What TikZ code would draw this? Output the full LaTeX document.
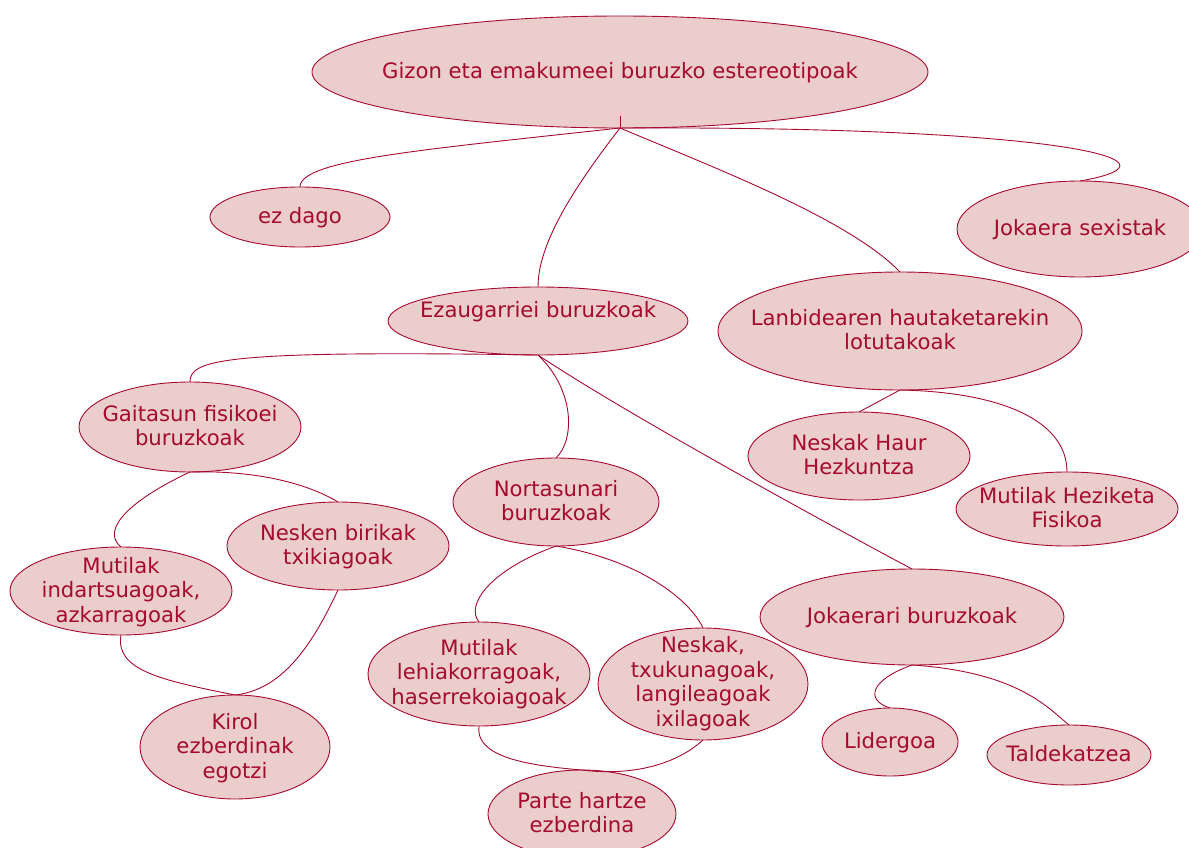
\documentclass[tikz,border=0pt]{standalone}
\usepackage{fontspec}
\setmainfont{DejaVu Sans}
\usetikzlibrary{shapes.geometric}
\definecolor{ink}{RGB}{165,10,48}
\definecolor{bubble}{RGB}{235,205,204}
\tikzset{
  bub/.style={ellipse, draw=ink, fill=bubble, line width=0.9pt, inner sep=0pt, outer sep=0pt,
    text=ink, font=\fontsize{21.2}{24.5}\selectfont},
  link/.style={draw=ink, line width=0.9pt}
}
% zero-size centred text, so that the ellipse keeps exactly the given size
\newcommand{\zt}[2][-7pt]{\smash{\raisebox{#1}{\makebox[0pt]{\smash{\begin{tabular}[c]{@{}c@{}}#2\end{tabular}}}}}}
\begin{document}
\begin{tikzpicture}[x=1pt, y=-1pt]
\useasboundingbox (0,0) rectangle (1189,848);
\node[bub, minimum width=616pt, minimum height=112pt] (root) at (620,72) {\zt{Gizon eta emakumeei buruzko estereotipoak}};
\node[bub, minimum width=180pt, minimum height=60pt] (ez) at (300,217) {\zt{ez dago}};
\node[bub, minimum width=246pt, minimum height=96pt] (sex) at (1080,229) {\zt{Jokaera sexistak}};
\node[bub, minimum width=300pt, minimum height=68pt] (eza) at (538,321) {\zt[3pt]{Ezaugarriei buruzkoak}};
\node[bub, minimum width=364pt, minimum height=118pt] (lan) at (900,331) {\zt{Lanbidearen hautaketarekin\\lotutakoak}};
\node[bub, minimum width=222pt, minimum height=88pt] (haur) at (859,456) {\zt{Neskak Haur\\Hezkuntza}};
\node[bub, minimum width=222pt, minimum height=74pt] (hez) at (1067,509) {\zt{Mutilak Heziketa\\Fisikoa}};
\node[bub, minimum width=222pt, minimum height=90pt] (gai) at (190,427) {\zt{Gaitasun fisikoei\\buruzkoak}};
\node[bub, minimum width=206pt, minimum height=88pt] (nor) at (556,502) {\zt{Nortasunari\\buruzkoak}};
\node[bub, minimum width=304pt, minimum height=96pt] (jok) at (912,617) {\zt{Jokaerari buruzkoak}};
\node[bub, minimum width=136pt, minimum height=68pt] (lid) at (890,742) {\zt{Lidergoa}};
\node[bub, minimum width=164pt, minimum height=60pt] (tal) at (1069,755) {\zt{Taldekatzea}};
\node[bub, minimum width=222pt, minimum height=88pt] (ind) at (121,591) {\zt{Mutilak\\indartsuagoak,\\azkarragoak}};
\node[bub, minimum width=222pt, minimum height=88pt] (bir) at (338,546) {\zt{Nesken birikak\\txikiagoak}};
\node[bub, minimum width=190pt, minimum height=104pt] (kir) at (235,747) {\zt{Kirol\\ezberdinak\\egotzi}};
\node[bub, minimum width=222pt, minimum height=104pt] (leh) at (479,674) {\zt[-6pt]{Mutilak\\lehiakorragoak,\\haserrekoiagoak}};
\node[bub, minimum width=210pt, minimum height=112pt] (txu) at (703,684) {\zt[-6pt]{Neskak,\\txukunagoak,\\langileagoak\\ixilagoak}};
\node[bub, minimum width=188pt, minimum height=88pt] (par) at (582,814) {\zt{Parte hartze\\ezberdina}};
% connectors
\draw[link] (root.south) -- ++(0,-12);
\draw[link] (root.south) .. controls (420,150) and (300,160) .. (ez.north);
\draw[link] (root.south) .. controls (1050,126) and (1200,160) .. (sex.north);
\draw[link] (root.south) .. controls (580,180) and (538,240) .. (eza.north);
\draw[link] (root.south) .. controls (720,170) and (850,220) .. (lan.north);
\draw[link] (lan.south) -- (haur.north);
\draw[link] (lan.south) .. controls (1000,392) and (1067,420) .. (hez.north);
\draw[link] (eza.south) .. controls (220,350) and (190,360) .. (gai.north);
\draw[link] (eza.south) .. controls (575,390) and (575,440) .. (nor.north);
\draw[link] (eza.south) .. controls (620,410) and (820,520) .. (jok.north);
\draw[link] (jok.south) .. controls (870,680) and (865,700) .. (lid.north);
\draw[link] (jok.south) .. controls (1020,672) and (1050,710) .. (tal.north);
\draw[link] (gai.south) .. controls (130,500) and (100,530) .. (ind.north);
\draw[link] (gai.south) .. controls (260,470) and (310,485) .. (bir.north);
\draw[link] (ind.south) .. controls (115,670) and (160,680) .. (kir.north);
\draw[link] (bir.south) .. controls (310,650) and (280,690) .. (kir.north);
\draw[link] (nor.south) .. controls (490,570) and (465,605) .. (leh.north);
\draw[link] (nor.south) .. controls (640,560) and (690,600) .. (txu.north);
\draw[link] (leh.south) .. controls (475,755) and (520,765) .. (par.north);
\draw[link] (txu.south) .. controls (670,770) and (620,775) .. (par.north);
\end{tikzpicture}
\end{document}
